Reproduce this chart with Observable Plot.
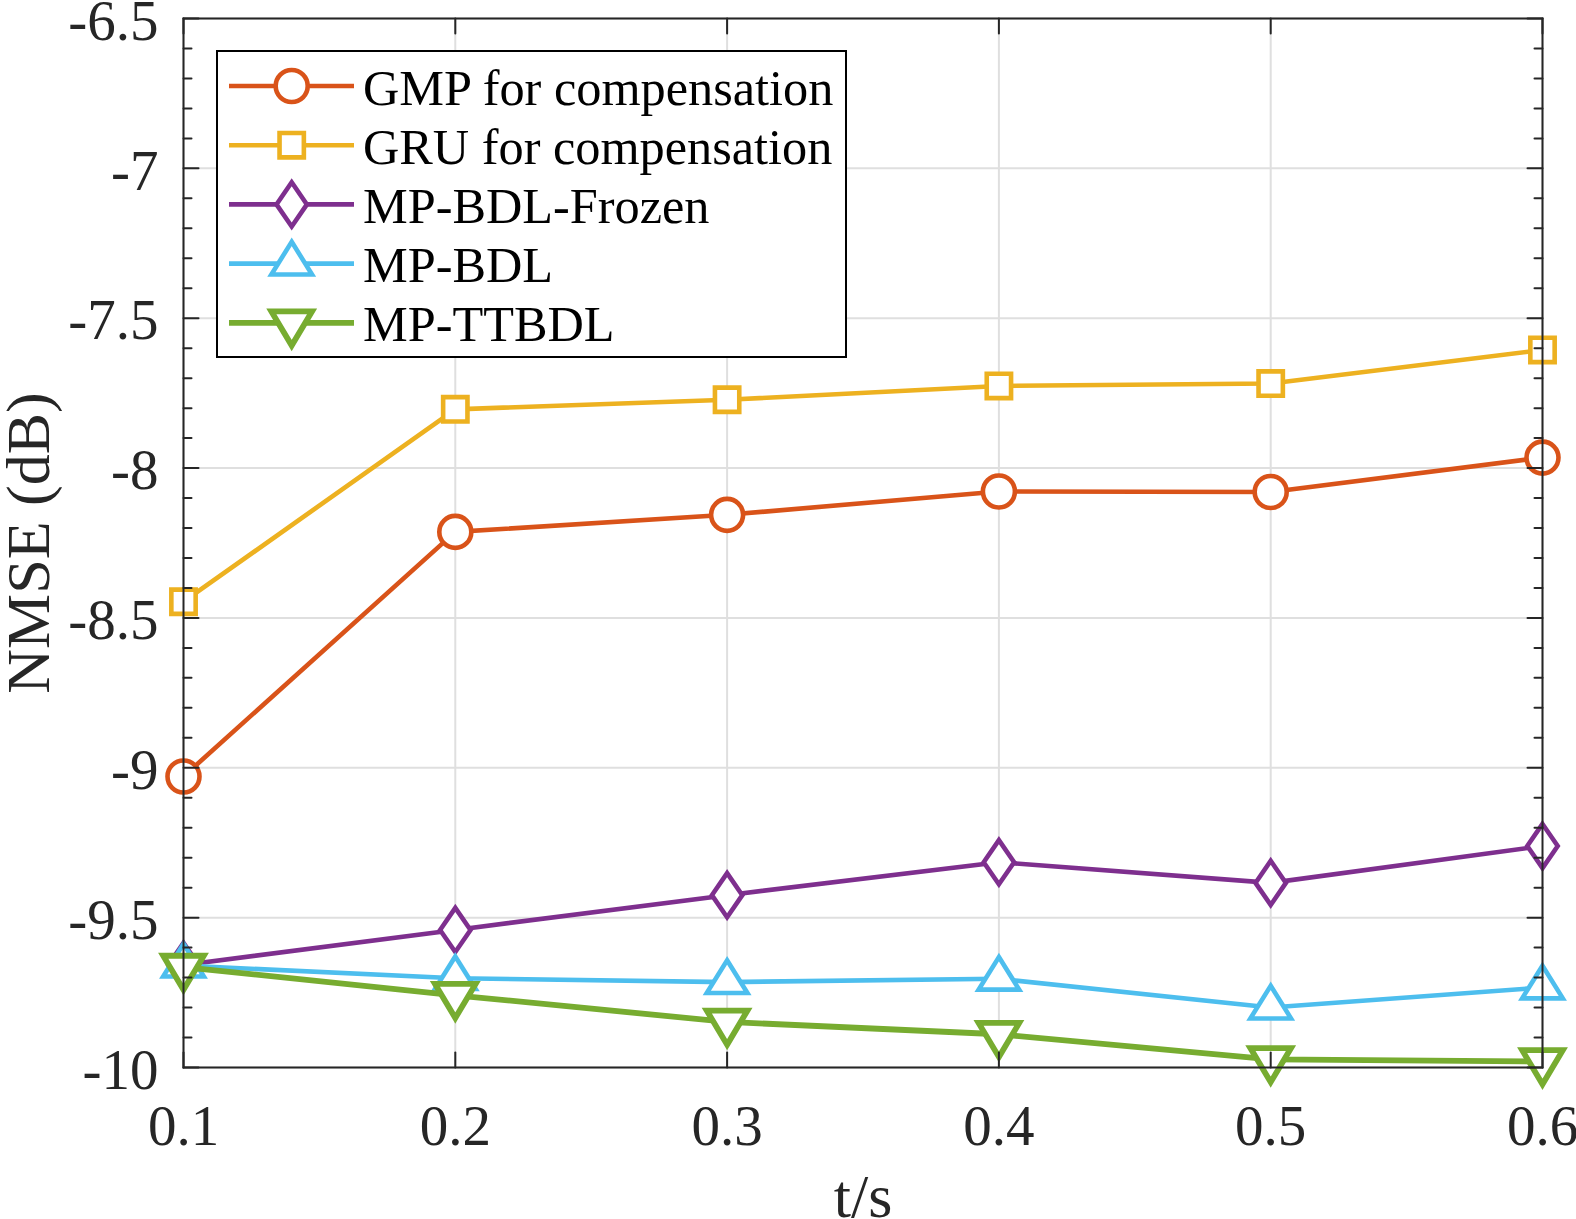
<!DOCTYPE html>
<html>
<head>
<meta charset="utf-8">
<script src="https://cdn.jsdelivr.net/npm/d3@7"></script>
<script src="https://cdn.jsdelivr.net/npm/@observablehq/plot@0.6"></script>
<style>
  html, body { margin: 0; padding: 0; background: #fff; }
  #chart { position: relative; width: 1576px; height: 1219px; overflow: hidden; }
  #legend { position: absolute; left: 216px; top: 50px; }
</style>
</head>
<body>
<div id="chart"></div>
<script>
// Observation times (s)
const times = [0.1, 0.2, 0.3, 0.4, 0.5, 0.6];

// NMSE (dB) of each method
const gmp    = [-9.029, -8.213, -8.156, -8.078, -8.080, -7.965];
const gru    = [-8.446, -7.804, -7.772, -7.726, -7.718, -7.606];
const frozen = [-9.658, -9.541, -9.425, -9.315, -9.384, -9.261];
const mpbdl  = [-9.660, -9.702, -9.715, -9.704, -9.800, -9.733];
const ttbdl  = [-9.665, -9.759, -9.848, -9.889, -9.973, -9.980];

const seriesNames  = ["GMP for compensation", "GRU for compensation", "MP-BDL-Frozen", "MP-BDL", "MP-TTBDL"];
const seriesValues = [gmp, gru, frozen, mpbdl, ttbdl];

// Axis ticks
const xTicks = [0.1, 0.2, 0.3, 0.4, 0.5, 0.6];
const yTicks = [-10, -9.5, -9, -8.5, -8, -7.5, -7, -6.5];
const yMinorTicks = d3.range(-100, -64).filter(i => i % 5 !== 0).map(i => i / 10);

// Styling
const seriesColors = ["#D95319", "#EDB120", "#7E2F8E", "#4DBEEE", "#77AC30"];
const seriesWidths = [4.6, 4.6, 4.6, 4.6, 5.8];
const markerR = 16;
const axisColor = "#262626";
const fontFamily = '"Liberation Serif", "Times New Roman", Times, serif';

// Open marker shapes (size = r*r*PI, as Plot and d3.symbol pass it)
const rOf = size => Math.sqrt(size / Math.PI);
const markerShapes = [
  { draw(ctx, size) { const r = rOf(size); ctx.moveTo(r, 0); ctx.arc(0, 0, r, 0, 2 * Math.PI); ctx.closePath(); } },
  { draw(ctx, size) { const h = rOf(size) * 0.76; ctx.moveTo(-h, -h); ctx.lineTo(h, -h); ctx.lineTo(h, h); ctx.lineTo(-h, h); ctx.closePath(); } },
  { draw(ctx, size) { const r = rOf(size), w = r * 0.95, h = r * 1.38; ctx.moveTo(0, -h); ctx.lineTo(w, 0); ctx.lineTo(0, h); ctx.lineTo(-w, 0); ctx.closePath(); } },
  { draw(ctx, size) { const r = rOf(size), w = r * 1.27; ctx.moveTo(0, -r * 1.36); ctx.lineTo(w, r * 0.68); ctx.lineTo(-w, r * 0.68); ctx.closePath(); } },
  { draw(ctx, size) { const r = rOf(size), w = r * 1.27; ctx.moveTo(0, r * 1.42); ctx.lineTo(w, -r * 0.71); ctx.lineTo(-w, -r * 0.71); ctx.closePath(); } }
];

// Long-format table built from the named arrays
const rows = seriesValues.flatMap((vals, s) => times.map((t, i) => ({t, v: vals[i], s})));

// Inward tick marks drawn as short vectors from the frame edge
const tickShape = { draw(ctx, l) { ctx.moveTo(0, 0); ctx.lineTo(0, -l); } };
const tickStyle = {stroke: axisColor, strokeWidth: 2, fill: "none", shape: tickShape, anchor: "start"};

const seriesMarks = seriesValues.flatMap((_, s) => {
  const d = rows.filter(r => r.s === s);
  return [
    Plot.line(d, {x: "t", y: "v", stroke: seriesColors[s], strokeWidth: seriesWidths[s], strokeLinejoin: "miter"}),
    Plot.dot(d, {x: "t", y: "v", symbol: markerShapes[s], r: markerR, fill: "white",
                 stroke: seriesColors[s], strokeWidth: seriesWidths[s]})
  ];
});

const chart = Plot.plot({
  width: 1576,
  height: 1219,
  marginLeft: 183,
  marginRight: 34,
  marginTop: 18,
  marginBottom: 152,
  x: {domain: [0.1, 0.6]},
  y: {domain: [-10, -6.5]},
  style: {fontFamily, fontSize: "57px", color: axisColor, background: "white", overflow: "visible"},
  marks: [
    Plot.gridX(xTicks, {stroke: "#dfdfdf", strokeOpacity: 1, strokeWidth: 2}),
    Plot.gridY(yTicks, {stroke: "#dfdfdf", strokeOpacity: 1, strokeWidth: 2}),
    ...seriesMarks,
    Plot.frame({stroke: axisColor, strokeWidth: 2}),
    Plot.vector(yTicks, {y: d => d, frameAnchor: "left", rotate: 90, length: 15, ...tickStyle}),
    Plot.vector(yTicks, {y: d => d, frameAnchor: "right", rotate: -90, length: 15, ...tickStyle}),
    Plot.vector(yMinorTicks, {y: d => d, frameAnchor: "left", rotate: 90, length: 8, ...tickStyle}),
    Plot.vector(yMinorTicks, {y: d => d, frameAnchor: "right", rotate: -90, length: 8, ...tickStyle}),
    Plot.vector(xTicks, {x: d => d, frameAnchor: "bottom", rotate: 0, length: 15, ...tickStyle}),
    Plot.vector(xTicks, {x: d => d, frameAnchor: "top", rotate: 180, length: 15, ...tickStyle}),
    Plot.axisX({ticks: xTicks, tickSize: 0, tickPadding: 37, fontSize: 57, tickFormat: d => d.toFixed(1), label: null}),
    Plot.axisY({ticks: yTicks, tickSize: 0, tickPadding: 25, fontSize: 57, tickFormat: d => String(d), label: null, dy: 3}),
    Plot.text(["t/s"], {frameAnchor: "bottom", textAnchor: "middle", lineAnchor: "bottom", dy: 149, fontSize: 62, fill: axisColor}),
    Plot.text(["NMSE (dB)"], {frameAnchor: "left", textAnchor: "middle", rotate: -90, lineAnchor: "bottom", dx: -135, fontSize: 62, fill: axisColor})
  ]
});

const container = document.getElementById("chart");
container.appendChild(chart);

// Legend box
const legW = 631, legH = 308;
const legend = d3.select(container).append("svg")
  .attr("id", "legend")
  .attr("width", legW)
  .attr("height", legH)
  .style("font-family", fontFamily);

legend.append("rect")
  .attr("x", 1).attr("y", 1)
  .attr("width", legW - 2).attr("height", legH - 2)
  .attr("fill", "white").attr("stroke", "#000").attr("stroke-width", 2);

const rowTop = 36, rowStep = 59.2;
seriesNames.forEach((name, s) => {
  const cy = rowTop + s * rowStep;
  const g = legend.append("g");
  g.append("line")
    .attr("x1", 13).attr("x2", 138).attr("y1", cy).attr("y2", cy)
    .attr("stroke", seriesColors[s]).attr("stroke-width", seriesWidths[s]);
  g.append("path")
    .attr("transform", `translate(75.7,${cy})`)
    .attr("d", d3.symbol().type(markerShapes[s]).size(markerR * markerR * Math.PI)())
    .attr("fill", "white").attr("stroke", seriesColors[s]).attr("stroke-width", seriesWidths[s]);
  g.append("text")
    .attr("x", 147).attr("y", cy + 18.5)
    .attr("font-size", 50.3).attr("fill", "#000")
    .text(name);
});
</script>
</body>
</html>
